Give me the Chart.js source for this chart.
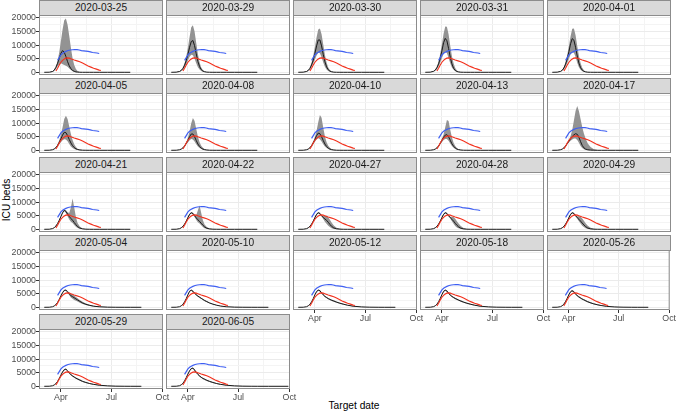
<!DOCTYPE html>
<html>
<head>
<meta charset="utf-8">
<script src="https://cdn.jsdelivr.net/npm/chart.js@4.4.1/dist/chart.umd.min.js"></script>
<style>
html,body{margin:0;padding:0;background:#fff;}
#wrap{position:relative;width:676px;height:412px;overflow:hidden;font-family:"Liberation Sans",Arial,Helvetica,sans-serif;}
#wrap canvas{position:absolute;left:0;top:0;}
.strip{position:absolute;box-sizing:border-box;width:124px;height:16px;background:#d9d9d9;border:1px solid #8c8c8c;font-size:10.2px;color:#1a1a1a;text-align:center;line-height:14px;z-index:2;white-space:nowrap;}
.ytitle{position:absolute;left:6px;top:200px;transform:translate(-50%,-50%) rotate(-90deg);font-size:10.2px;color:#000;white-space:nowrap;}
.xtitle{position:absolute;left:354px;top:405px;transform:translate(-50%,-50%);font-size:10.2px;color:#000;white-space:nowrap;}
</style>
</head>
<body>
<div id="wrap">
  <div class="ytitle">ICU beds</div>
  <div class="xtitle">Target date</div>
</div>
<script>
// ---------------- data ----------------
const panelDates = ['2020-03-25','2020-03-29','2020-03-30','2020-03-31','2020-04-01',
  '2020-04-05','2020-04-08','2020-04-10','2020-04-13','2020-04-17',
  '2020-04-21','2020-04-22','2020-04-27','2020-04-28','2020-04-29',
  '2020-05-04','2020-05-10','2020-05-12','2020-05-18','2020-05-26',
  '2020-05-29','2020-06-05'];

// day numbers counted from 2020-01-01 (= day 0)
const fcDays = [61,70,76,79,82,85,88,91,94,97,100,103,106,109,112,115,118,121,125,130,136,143,150,160,175,190,205,216,236,272];
const fcEndDay = [216,216,216,216,216,216,216,216,216,216,216,216,216,216,216,236,236,236,236,236,236,272];

const fcMedian = [
  [0,30,300,800,1800,3300,5200,7000,8000,7400,5800,3900,2400,1300,700,350,150,60,20],
  [0,50,300,700,1400,2600,4300,6600,9200,11300,11700,9800,6800,4000,2100,1000,450,200,60,15],
  [0,50,300,700,1400,2700,4500,7000,9700,11900,11900,9700,6600,3900,2000,950,430,180,50,10],
  [0,50,350,800,1700,3100,5200,7900,10900,12500,11600,8800,5600,3100,1500,700,300,120,40,10],
  [0,50,330,750,1600,3000,5000,7600,10500,12400,11800,9200,6000,3400,1700,800,350,140,40,10],
  [0,20,200,500,1000,1800,2900,4200,5600,6600,6500,5400,4000,2700,1700,1000,550,300,120,40,10],
  [0,20,200,450,900,1600,2600,3700,5000,6000,6000,5000,3600,2300,1400,800,430,230,100,30,10],
  [0,20,200,450,950,1700,2800,4000,5400,6300,6100,5000,3600,2300,1400,800,430,230,100,30,10],
  [0,20,200,450,900,1600,2600,3700,4800,5600,5750,5000,3700,2400,1500,850,450,240,100,30,10],
  [0,20,200,450,900,1600,2500,3400,4300,5100,5700,6100,5900,4800,3200,1800,900,450,180,60,20],
  [0,20,250,600,1200,2100,3300,4700,6100,7000,6600,5600,4700,4000,3300,2500,1700,1000,450,150,40,10],
  [0,20,230,550,1100,1900,3000,4300,5500,6100,5800,5000,4200,3500,2900,2200,1500,900,400,130,40,10],
  [0,20,230,550,1100,1900,3000,4300,5500,6100,5800,5000,4300,3800,3300,2600,1800,1100,500,180,50,10],
  [0,20,230,550,1100,1900,3000,4300,5500,6100,5800,5000,4300,3700,3000,2200,1500,900,400,140,40,10],
  [0,20,230,550,1100,1900,3000,4300,5500,6100,5800,5000,4300,3700,3000,2300,1600,1000,450,150,40,10],
  [0,20,200,500,1000,1800,2900,4200,5400,6200,6300,5700,4900,4300,3900,3500,3100,2700,2200,1600,1100,700,400,180,50,10],
  [0,20,220,550,1100,2000,3200,4600,5900,6300,5900,5200,4600,4100,3700,3300,2900,2500,2100,1600,1150,750,450,200,60,15,5],
  [0,20,220,550,1100,2000,3200,4600,5800,6300,6100,5300,4600,4000,3600,3200,2900,2600,2300,1900,1500,1100,750,400,130,40,10],
  [0,20,230,560,1120,2050,3250,4650,5850,6300,6000,5200,4500,4000,3600,3250,2950,2650,2300,1900,1500,1100,760,400,140,40,10],
  [0,20,220,550,1100,2000,3200,4500,5600,6100,5800,5000,4400,3900,3500,3100,2800,2500,2100,1700,1300,950,650,350,120,40,10],
  [0,20,200,500,1000,1800,2900,4100,5300,6100,6300,5700,4900,4300,3800,3400,3000,2700,2300,1800,1400,1000,700,400,150,50,15,5],
  [0,20,220,550,1100,2000,3200,4500,5700,6500,6700,6000,5100,4400,3800,3300,2900,2600,2200,1800,1400,1000,700,400,150,50,15,5]
];

const fcUpper = [
  [0,30,400,1000,2200,4200,7400,11500,15800,19200,19800,17500,13500,9000,5200,2700,1200,500,150,30],
  [0,60,400,900,1800,3400,5800,9000,13000,16600,17300,15000,10800,6700,3700,1800,800,350,100,25],
  [0,60,400,900,1900,3600,6100,9300,12900,15800,16100,14000,10200,6500,3600,1800,800,350,100,25],
  [0,60,450,1000,2100,4000,6800,10300,14200,16900,16800,14000,9800,6000,3300,1600,700,300,90,20],
  [0,60,420,950,2000,3800,6400,9700,13300,16000,16100,13600,9700,6100,3400,1700,750,320,90,20],
  [0,20,220,550,1150,2200,3700,5700,8500,11500,12700,11500,8800,6000,3800,2200,1200,600,250,80,20],
  [0,20,220,500,1000,1800,3000,4600,7000,10000,11900,10800,7800,5000,3000,1700,900,450,180,60,15],
  [0,20,220,520,1050,1900,3200,4800,7200,10300,13000,12000,8400,5200,3000,1700,900,450,180,60,15],
  [0,20,220,500,1000,1800,2900,4200,5800,8500,11200,10800,7600,4800,2800,1600,850,420,170,50,15],
  [0,20,220,500,1000,1800,2800,3900,5300,7500,11000,14500,16300,14500,11500,8600,6200,4300,2500,1200,400,100],
  [0,25,280,680,1350,2350,3650,5100,6400,7300,7000,6300,6000,8000,11300,8000,4500,2300,1000,300,80,20],
  [0,25,260,620,1230,2100,3300,4700,5800,6400,6100,5400,5200,7000,8800,6000,3300,1800,800,250,60,15],
  [0,25,260,620,1230,2100,3300,4700,5800,6400,6100,5200,4900,4900,5000,4400,3500,2500,1400,600,180,40],
  [0,25,260,620,1230,2100,3300,4700,5800,6400,6100,5300,4600,4600,4500,3900,3000,2100,1200,500,150,30],
  [0,25,260,620,1230,2100,3300,4700,5800,6400,6100,5300,4800,4800,4600,4000,3100,2200,1300,550,160,35],
  [0,25,230,560,1100,1950,3100,4450,5650,6450,6550,6000,5400,5000,4700,4300,3800,3300,2700,2000,1400,900,550,250,70,15],
  [0,25,240,590,1170,2100,3350,4800,6100,6550,6150,5450,4850,4350,3950,3550,3150,2750,2300,1780,1300,860,530,240,75,20,6],
  [0,25,240,590,1170,2100,3350,4800,6000,6550,6350,5550,4850,4250,3850,3450,3150,2850,2550,2130,1700,1270,880,480,170,55,15],
  [0,25,250,600,1190,2150,3400,4850,6050,6550,6250,5450,4750,4250,3850,3500,3200,2900,2550,2130,1700,1270,890,480,180,55,15],
  [0,25,240,590,1170,2100,3350,4700,5800,6350,6050,5250,4650,4150,3750,3350,3050,2750,2350,1920,1500,1110,770,430,160,55,15],
  [0,25,220,540,1070,1900,3050,4300,5500,6350,6550,5950,5150,4550,4050,3650,3250,2950,2550,2030,1600,1160,830,480,190,65,20,7],
  [0,25,240,590,1170,2100,3350,4700,5900,6750,6950,6250,5350,4650,4050,3550,3150,2850,2450,2030,1600,1160,830,480,190,65,20,7]
];

const fcLower = [
  [0,0,150,500,1200,2200,3000,3300,3000,2700,2400,2000,1400,800,400,150,50,20],
  [0,30,200,500,1000,1900,3000,4300,5700,6500,6300,5000,3300,1900,1000,450,180,70,20],
  [0,30,200,500,1000,2000,3200,4700,6200,7200,7000,5500,3600,2000,1000,450,180,70,20],
  [0,30,250,550,1100,2100,3500,5200,6800,7600,7100,5300,3300,1800,900,400,160,60,20],
  [0,30,230,520,1050,2000,3400,5000,6600,7500,7200,5600,3500,1900,950,420,170,60,20],
  [0,10,150,400,800,1400,2200,3000,3700,4100,4000,3300,2300,1400,800,450,200,90,30,10],
  [0,10,150,350,700,1300,2100,2900,3700,4200,4000,3200,2200,1400,800,450,220,100,40,10],
  [0,10,150,350,750,1350,2200,3100,4000,4400,4100,3200,2200,1400,800,450,220,100,40,10],
  [0,10,150,350,700,1300,2100,3000,3800,4200,4200,3500,2500,1600,900,500,240,110,40,10],
  [0,10,150,350,700,1300,2100,2900,3500,4000,4300,4300,3800,2800,1600,800,350,150,50,10],
  [0,15,220,520,1050,1850,2950,4300,5800,6600,6000,4800,3600,2800,2300,1600,900,500,200,60,15],
  [0,15,200,480,970,1700,2700,3900,5200,5800,5400,4500,3400,2600,2100,1500,800,400,150,40,10],
  [0,15,200,480,970,1700,2700,3900,5200,5800,5500,4800,3800,2800,2000,1300,800,400,150,40,10],
  [0,15,200,480,970,1700,2700,3900,5200,5800,5500,4700,4000,3000,2000,1200,700,350,130,40,10],
  [0,15,200,480,970,1700,2700,3900,5200,5800,5500,4700,3900,3000,2100,1300,800,400,150,40,10],
  [0,15,170,440,900,1650,2700,3950,5150,5950,6050,5400,4400,3600,3100,2700,2400,2100,1700,1200,800,500,280,120,30,5],
  [0,15,200,510,1030,1900,3050,4400,5700,6050,5650,4950,4350,3850,3450,3050,2650,2250,1900,1420,1000,640,370,160,45,10,4],
  [0,15,200,510,1030,1900,3050,4400,5600,6050,5850,5050,4350,3750,3350,2950,2650,2350,2050,1670,1300,930,620,320,95,25,5],
  [0,15,210,520,1050,1950,3100,4450,5650,6050,5750,4950,4250,3750,3350,3000,2700,2400,2050,1670,1300,930,630,320,100,25,5],
  [0,15,200,510,1030,1900,3050,4300,5400,5850,5550,4750,4150,3650,3250,2850,2550,2250,1850,1480,1100,790,530,270,80,25,5],
  [0,15,180,460,930,1700,2750,3900,5100,5850,6050,5450,4650,4050,3550,3150,2750,2450,2050,1570,1200,840,570,320,110,35,10,3],
  [0,15,200,510,1030,1900,3050,4300,5500,6250,6450,5750,4850,4150,3550,3050,2650,2350,1950,1570,1200,840,570,320,110,35,10,3]
];

// observed ICU occupancy (red) and second reference series (blue)
const obsDays = [82,85,88,91,94,97,100,103,106,110,115,120,125,130,135,140,145,150,155,160,163];
const obsICU  = [500,1500,2700,3700,4400,4900,5200,5300,5200,4900,4500,4200,3900,3400,2900,2300,1900,1500,1150,800,650];
const capDays = [85,88,91,94,97,100,104,108,112,116,120,124,128,132,136,140,144,148,152,156,160];
const capBeds = [4400,5400,6400,7000,7400,7700,8000,8200,8300,8400,8350,8200,8000,7900,7800,7700,7500,7300,7200,7100,6900];

const yTicks = [0,2500,5000,7500,10000,12500,15000,17500,20000];
const yMajor = [0,5000,10000,15000,20000];
const xTickDays = [91,136.5,182,228,274];
const xTickLabels = {91:'Apr',182:'Jul',274:'Oct'};

// ---------------- drawing ----------------
const FONT = '"Liberation Sans", Arial, Helvetica, sans-serif';
const W = 676, H = 412, PW = 124, PH = 60;
const YAXW = 39, XAXH = 16;
const wrap = document.getElementById('wrap');
const nPanels = panelDates.length;

const framePlugin = {
  id: 'frame',
  afterDraw(chart) {
    const a = chart.chartArea, c = chart.ctx;
    c.save();
    c.strokeStyle = '#8c8c8c';
    c.lineWidth = 1;
    c.strokeRect(a.left + 0.5, a.top + 0.5, a.right - a.left - 1, a.bottom - a.top - 1);
    c.restore();
  }
};

panelDates.forEach((label, i) => {
  const row = Math.floor(i / 5), col = i % 5;
  const x0 = 39 + 127 * col;
  const y0 = Math.round(15 + 78.4 * row);
  const showY = col === 0;
  const showX = i + 5 >= nPanels;
  const yw = showY ? YAXW : 0;
  const xh = showX ? XAXH : 0;

  const strip = document.createElement('div');
  strip.className = 'strip';
  strip.style.left = x0 + 'px';
  strip.style.top = (y0 - 15) + 'px';
  strip.textContent = label;
  wrap.appendChild(strip);

  const cv = document.createElement('canvas');
  cv.width = W; cv.height = H;
  cv.style.width = W + 'px'; cv.style.height = H + 'px';
  wrap.appendChild(cv);

  const series = (arr) => fcDays.map((d, k) => ({x: d, y: arr[k] ?? 0})).filter(p => p.x <= fcEndDay[i]);
  const pair = (xs, ys) => xs.map((d, k) => ({x: d, y: ys[k]}));

  new Chart(cv, {
    type: 'line',
    data: {
      datasets: [
        {data: series(fcLower[i]), borderColor: 'rgba(0,0,0,0)', borderWidth: 0, pointRadius: 0, fill: false, order: 6},
        {data: series(fcUpper[i]), borderColor: 'rgba(0,0,0,0)', borderWidth: 0, pointRadius: 0, fill: 0, backgroundColor: '#939393', order: 5},
        {data: pair(capDays, capBeds), borderColor: '#3d5ef2', borderWidth: 1.15, pointRadius: 0, fill: false, order: 3},
        {data: pair(obsDays, obsICU), borderColor: '#f2331f', borderWidth: 1.15, pointRadius: 0, fill: false, order: 2},
        {data: series(fcMedian[i]), borderColor: '#1a1a1a', borderWidth: 1, pointRadius: 0, fill: false, order: 4}
      ]
    },
    options: {
      responsive: false,
      animation: false,
      devicePixelRatio: 1,
      events: [],
      layout: {
        autoPadding: false,
        padding: {left: x0 - yw, top: y0, right: W - x0 - PW, bottom: H - y0 - PH - xh}
      },
      elements: {line: {tension: 0}, point: {radius: 0}},
      plugins: {legend: {display: false}, tooltip: {enabled: false}, title: {display: false}},
      scales: {
        x: {
          type: 'linear', bounds: 'data', min: 51.5, max: 275,
          afterFit: (s) => { s.height = xh; },
          afterBuildTicks: (s) => { s.ticks = xTickDays.map(v => ({value: v})); },
          ticks: {
            display: showX, autoSkip: false, maxRotation: 0, minRotation: 0, padding: 0,
            color: '#4d4d4d', font: {family: FONT, size: 8.8},
            callback: (v) => xTickLabels[v] || ''
          },
          grid: {
            color: (ctx) => (ctx.tick && xTickLabels[ctx.tick.value]) ? '#ebebeb' : '#f4f4f4',
            lineWidth: 1,
            drawTicks: showX,
            tickLength: 3,
            tickColor: (ctx) => (ctx.tick && xTickLabels[ctx.tick.value]) ? '#333333' : 'rgba(0,0,0,0)'
          },
          border: {display: false}
        },
        y: {
          type: 'linear', bounds: 'data', min: -1000, max: 21100,
          afterFit: (s) => { s.width = yw; },
          afterBuildTicks: (s) => { s.ticks = yTicks.map(v => ({value: v})); },
          ticks: {
            display: showY, autoSkip: false, padding: 0,
            color: '#4d4d4d', font: {family: FONT, size: 8.8},
            callback: (v) => yMajor.includes(v) ? String(v) : ''
          },
          grid: {
            color: (ctx) => (ctx.tick && yMajor.includes(ctx.tick.value)) ? '#ebebeb' : '#f4f4f4',
            lineWidth: 1,
            drawTicks: showY,
            tickLength: 3,
            tickColor: (ctx) => (ctx.tick && yMajor.includes(ctx.tick.value)) ? '#333333' : 'rgba(0,0,0,0)'
          },
          border: {display: false}
        }
      }
    },
    plugins: [framePlugin]
  });
});
</script>
</body>
</html>
